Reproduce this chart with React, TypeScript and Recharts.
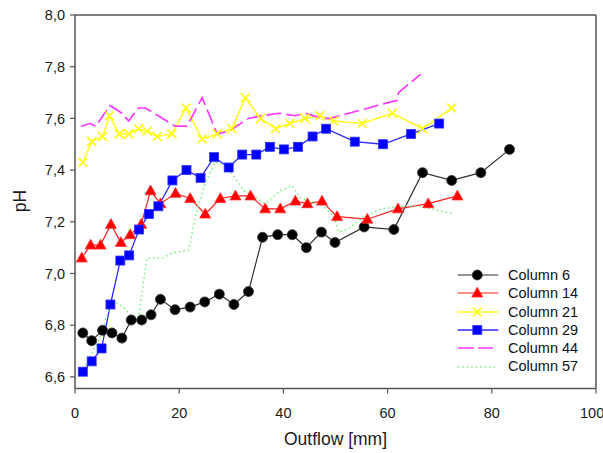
import { LineChart, Line, XAxis, YAxis, ReferenceLine, Legend, Label } from "recharts";

// Outflow [mm] / pH readings per column
const col6X = [1.5, 3.2, 5.3, 7.1, 9.0, 10.8, 12.8, 14.6, 16.4, 19.2, 22.1, 24.9, 27.7, 30.5, 33.3, 36.0, 38.9, 41.7, 44.4, 47.3, 49.9, 55.5, 61.2, 66.7, 72.3, 77.9, 83.4];
const col6Y = [6.77, 6.74, 6.78, 6.77, 6.75, 6.82, 6.82, 6.84, 6.9, 6.86, 6.87, 6.89, 6.92, 6.88, 6.93, 7.14, 7.15, 7.15, 7.1, 7.16, 7.12, 7.18, 7.17, 7.39, 7.36, 7.39, 7.48];

const col14X = [1.3, 3.0, 4.9, 6.9, 8.8, 10.6, 12.7, 14.5, 16.4, 19.3, 22.1, 25.0, 27.9, 30.8, 33.7, 36.5, 39.4, 42.3, 44.6, 47.4, 50.3, 56.1, 62.0, 67.8, 73.4];
const col14Y = [7.06, 7.11, 7.11, 7.19, 7.12, 7.15, 7.19, 7.32, 7.27, 7.31, 7.29, 7.23, 7.29, 7.3, 7.3, 7.25, 7.25, 7.28, 7.27, 7.28, 7.22, 7.21, 7.25, 7.27, 7.3];

const col21X = [1.5, 3.2, 5.3, 6.6, 8.5, 10.3, 12.2, 13.9, 15.8, 18.6, 21.3, 24.4, 27.3, 30.1, 32.7, 35.6, 38.5, 41.2, 44.1, 47.0, 49.7, 55.1, 60.9, 66.7, 72.3];
const col21Y = [7.43, 7.51, 7.53, 7.61, 7.54, 7.54, 7.56, 7.55, 7.53, 7.54, 7.64, 7.52, 7.54, 7.56, 7.68, 7.6, 7.56, 7.58, 7.6, 7.61, 7.59, 7.58, 7.62, 7.56, 7.64];

const col29X = [1.5, 3.2, 5.1, 6.8, 8.7, 10.4, 12.3, 14.2, 16.0, 18.7, 21.4, 24.1, 26.7, 29.5, 32.1, 34.8, 37.4, 40.1, 42.8, 45.6, 48.2, 53.7, 59.1, 64.5, 69.9];
const col29Y = [6.62, 6.66, 6.71, 6.88, 7.05, 7.07, 7.17, 7.23, 7.26, 7.36, 7.4, 7.37, 7.45, 7.41, 7.46, 7.46, 7.49, 7.48, 7.49, 7.53, 7.56, 7.51, 7.5, 7.54, 7.58];

const col44X = [1.2, 2.9, 4.0, 6.7, 9.0, 10.3, 12.2, 13.5, 16.0, 17.6, 19.2, 21.5, 24.4, 27.3, 29.5, 33.3, 35.9, 39.1, 42.3, 44.2, 47.4, 49.0, 59.9, 61.9, 62.1, 66.3];
const col44Y = [7.57, 7.58, 7.57, 7.65, 7.62, 7.59, 7.64, 7.64, 7.61, 7.59, 7.57, 7.57, 7.68, 7.54, 7.55, 7.6, 7.61, 7.62, 7.61, 7.62, 7.6, 7.6, 7.66, 7.67, 7.7, 7.77];

const col57X = [1.6, 4.5, 6.7, 7.7, 9.3, 10.9, 12.2, 13.8, 16.7, 18.9, 21.8, 23.1, 25.0, 26.9, 28.5, 30.4, 32.4, 34.3, 36.5, 39.4, 41.7, 43.3, 47.1, 49.7, 50.6, 52.3, 55.4, 58.7, 62.5, 66.3, 72.8];
const col57Y = [6.63, 6.74, 6.87, 6.89, 6.87, 6.83, 6.83, 7.06, 7.06, 7.08, 7.09, 7.22, 7.35, 7.43, 7.42, 7.38, 7.32, 7.3, 7.27, 7.32, 7.34, 7.29, 7.27, 7.22, 7.16, 7.17, 7.22, 7.25, 7.26, 7.26, 7.23];

const xTicks = [0, 20, 40, 60, 80, 100];
const yTicks = [6.6, 6.8, 7.0, 7.2, 7.4, 7.6, 7.8, 8.0];

type Kind = "circle" | "triangle" | "cross" | "square" | "none";

const zip = (xs: number[], ys: number[]) => xs.map((x, i) => ({ x, y: ys[i] }));

const series = [
  { name: "Column 6", data: zip(col6X, col6Y), stroke: "#303030", width: 1.2, dash: undefined, kind: "circle" as Kind },
  { name: "Column 14", data: zip(col14X, col14Y), stroke: "#ff2020", width: 1.2, dash: undefined, kind: "triangle" as Kind },
  { name: "Column 21", data: zip(col21X, col21Y), stroke: "#ffff20", width: 1.5, dash: undefined, kind: "cross" as Kind },
  { name: "Column 29", data: zip(col29X, col29Y), stroke: "#2a2aff", width: 1.3, dash: undefined, kind: "square" as Kind },
  { name: "Column 44", data: zip(col44X, col44Y), stroke: "#ff33ff", width: 1.6, dash: "15 5", kind: "none" as Kind },
  { name: "Column 57", data: zip(col57X, col57Y), stroke: "#7cf07c", width: 1.6, dash: "1.5 3", kind: "none" as Kind },
];

const Marker = ({ cx, cy, kind }: { cx?: number; cy?: number; kind: Kind }) => {
  if (cx == null || cy == null) return null;
  switch (kind) {
    case "circle":
      return <circle cx={cx} cy={cy} r={5} fill="#000" stroke="#333" strokeWidth={0.8} />;
    case "triangle":
      return <polygon points={`${cx},${cy - 5.8} ${cx + 5.5},${cy + 4} ${cx - 5.5},${cy + 4}`} fill="#ff0000" stroke="#ff3030" strokeWidth={0.8} />;
    case "square":
      return <rect x={cx - 4.5} y={cy - 4.5} width={9} height={9} fill="#0000ff" stroke="#3030ff" strokeWidth={0.8} />;
    case "cross":
      return (
        <path
          d={`M${cx - 4.5},${cy - 4.5}L${cx + 4.5},${cy + 4.5}M${cx + 4.5},${cy - 4.5}L${cx - 4.5},${cy + 4.5}`}
          stroke="#ffff00"
          strokeWidth={1.5}
          fill="none"
        />
      );
    default:
      return null;
  }
};

const LegendContent = () => (
  <div style={{ fontSize: 14.5, color: "#111", lineHeight: "18.3px" }}>
    {series.map((s) => (
      <div key={s.name} style={{ display: "flex", alignItems: "center", height: 18.3 }}>
        <svg width={52} height={18} style={{ display: "block" }}>
          <line
            x1={1.7}
            x2={s.kind === "none" && s.dash !== "1.5 3" ? 37 : 42.3}
            y1={9}
            y2={9}
            stroke={s.stroke}
            strokeWidth={s.width}
            strokeDasharray={s.kind === "none" && s.dash !== "1.5 3" ? "16 4.4" : s.dash}
          />
          <Marker cx={21.3} cy={9} kind={s.kind} />
        </svg>
        <span>{s.name}</span>
      </div>
    ))}
  </div>
);

const fmt = (v: number) => v.toFixed(1).replace(".", ",");

export default function App() {
  return (
    <div
      style={{
        position: "absolute",
        left: 0,
        top: 0,
        width: 603,
        height: 453,
        background: "#fff",
        fontFamily: 'Arial, "Liberation Sans", sans-serif',
      }}
    >
      <LineChart width={603} height={453} margin={{ top: 15, right: 7, left: 30, bottom: 0 }}>
        <XAxis
          type="number"
          dataKey="x"
          domain={[0, 100]}
          ticks={xTicks}
          allowDataOverflow
          height={64.5}
          tickSize={5}
          tickMargin={14}
          axisLine={{ stroke: "#555", strokeWidth: 1.5 }}
          tickLine={{ stroke: "#555", strokeWidth: 1.2 }}
          tick={{ fill: "#1a1a1a", fontSize: 14.5 }}
        >
          <Label value="Outflow [mm]" position="insideBottom" offset={8} fill="#1a1a1a" fontSize={17.5} />
        </XAxis>
        <YAxis
          type="number"
          dataKey="y"
          domain={[6.555, 8]}
          ticks={yTicks}
          allowDataOverflow
          width={45}
          tickSize={5}
          tickMargin={5}
          tickFormatter={fmt}
          axisLine={{ stroke: "#555", strokeWidth: 1.5 }}
          tickLine={{ stroke: "#555", strokeWidth: 1.2 }}
          tick={{ fill: "#1a1a1a", fontSize: 14.5 }}
        >
          <Label
            content={() => (
              <text x={20} y={201} transform="rotate(-90 20 201)" textAnchor="middle" dominantBaseline="central" fontSize={17.5} fill="#1a1a1a">
                pH
              </text>
            )}
          />
        </YAxis>
        <ReferenceLine y={8} stroke="#555" strokeWidth={1.5} ifOverflow="visible" />
        <ReferenceLine x={100} stroke="#555" strokeWidth={1.5} ifOverflow="visible" />
        {series.map((s) => (
          <Line
            key={s.name}
            data={s.data}
            dataKey="y"
            name={s.name}
            type="linear"
            stroke={s.stroke}
            strokeWidth={s.width}
            strokeDasharray={s.dash}
            isAnimationActive={false}
            activeDot={false}
            dot={
              s.kind === "none"
                ? false
                : (p: any) => <Marker key={`${s.name}-${p.index}`} cx={p.cx} cy={p.cy} kind={s.kind} />
            }
          />
        ))}
        <Legend
          layout="vertical"
          align="center"
          verticalAlign="middle"
          wrapperStyle={{ left: 456, top: 266, width: 150 }}
          content={LegendContent}
        />
      </LineChart>
    </div>
  );
}
